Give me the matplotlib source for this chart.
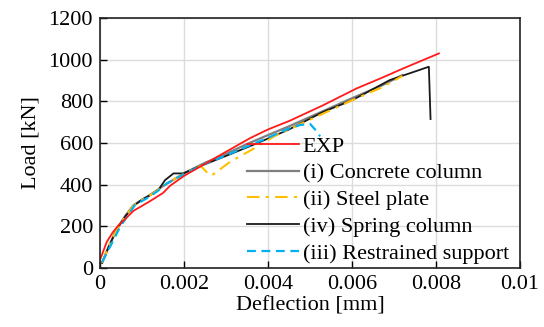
import matplotlib
matplotlib.use("Agg")
import matplotlib.pyplot as plt

plt.rcParams['font.family'] = ['Liberation Serif', 'DejaVu Serif']

# EXP (red)
exp_x = [0.0, 0.00004, 0.00016, 0.0003, 0.00044, 0.0006, 0.0008, 0.001, 0.0012, 0.0015, 0.00167,
         0.002, 0.0025, 0.00294, 0.00357, 0.0040, 0.00452, 0.00532, 0.00611, 0.0067, 0.00722, 0.00807]
exp_y = [40, 60, 125, 170, 205, 235, 275, 298, 322, 360, 395,
         442, 500, 551, 623, 665, 707, 782, 862, 912, 958, 1030]

# (i) Concrete column (gray)
con_x = [0.00005, 0.0002, 0.0004, 0.0006, 0.0008, 0.001, 0.0012, 0.0015, 0.0018, 0.002,
         0.0025, 0.003, 0.0035, 0.004, 0.0045, 0.005, 0.006, 0.0067, 0.0072]
con_y = [25, 100, 188, 250, 302, 328, 352, 393, 430, 455,
         505, 548, 595, 638, 680, 725, 815, 875, 926]

# (ii) Steel plate (gold)
stl_x = [0.00005, 0.0002, 0.0004, 0.0006, 0.0008, 0.001, 0.0012, 0.0015, 0.0018, 0.002,
         0.0022, 0.0024, 0.00255, 0.0026, 0.0027, 0.0029, 0.0031, 0.0036, 0.0042, 0.00445,
         0.005, 0.006, 0.0067, 0.0072]
stl_y = [25, 100, 185, 247, 300, 327, 350, 392, 430, 452,
         472, 490, 458, 446, 450, 480, 510, 566, 638, 660,
         712, 805, 866, 922]

# (iv) Spring column (black)
spr_x = [0.00005, 0.0002, 0.0004, 0.0006, 0.0008, 0.001, 0.0012, 0.0014, 0.00155, 0.00175,
         0.00198, 0.0025, 0.003, 0.00373, 0.0045, 0.00532, 0.006, 0.0069, 0.00783, 0.00787]
spr_y = [25, 98, 185, 247, 298, 328, 350, 378, 422, 454,
         454, 498, 538, 598, 665, 750, 805, 902, 966, 715]

# (iii) Restrained support (cyan)
res_x = [0.00005, 0.00024, 0.00048, 0.00067, 0.00083, 0.00111, 0.00135, 0.00159, 0.00198,
         0.0025, 0.003, 0.0035, 0.004, 0.00448, 0.00476, 0.005, 0.00512, 0.00524]
res_y = [28, 102, 198, 254, 302, 334, 366, 406, 448,
         500, 540, 583, 625, 668, 686, 692, 665, 632]

xticks = [0, 0.002, 0.004, 0.006, 0.008, 0.01]
xtick_labels = ["0", "0.002", "0.004", "0.006", "0.008", "0.01"]
yticks = [0, 200, 400, 600, 800, 1000, 1200]

fig = plt.figure(figsize=(5.44, 3.27), dpi=100)
ax = fig.add_axes([100/544, (327-268)/327, 420/544, 250/327])

l_con, = ax.plot(con_x, con_y, color='#7f7f7f', lw=1.6, label='(i) Concrete column')
l_spr, = ax.plot(spr_x, spr_y, color='#1a1a1a', lw=1.3, label='(iv) Spring column')
l_stl, = ax.plot(stl_x, stl_y, color='#ffc000', lw=1.5, ls=(0, (6, 3, 1.5, 3)), label='(ii) Steel plate')
l_res, = ax.plot(res_x, res_y, color='#00b0f0', lw=1.6, ls=(0, (4, 2.5)), label='(iii) Restrained support')
l_exp, = ax.plot(exp_x, exp_y, color='#ff1a1a', lw=1.3, label='EXP')

ax.set_xlim(0, 0.01)
ax.set_ylim(0, 1200)
ax.set_xticks(xticks)
ax.set_xticklabels(xtick_labels)
ax.set_yticks(yticks)
ax.tick_params(direction='in', length=5, width=1, labelsize=16, pad=5, colors='black')
ax.grid(True, color='#dcdcdc', lw=1.0)
ax.set_axisbelow(True)
for s in ax.spines.values():
    s.set_color('#222222')
    s.set_linewidth(1.2)

ax.set_xlabel('Deflection [mm]', fontsize=16, labelpad=2)
ax.set_ylabel('Load [kN]', fontsize=16, labelpad=6)

leg = ax.legend(handles=[l_exp, l_con, l_stl, l_spr, l_res], loc='lower right',
                bbox_to_anchor=(0.995, -0.018), frameon=False, fontsize=16,
                handlelength=2.35, handletextpad=0.15, labelspacing=0.28,
                borderaxespad=0)

fig.savefig('out.png', dpi=100)
